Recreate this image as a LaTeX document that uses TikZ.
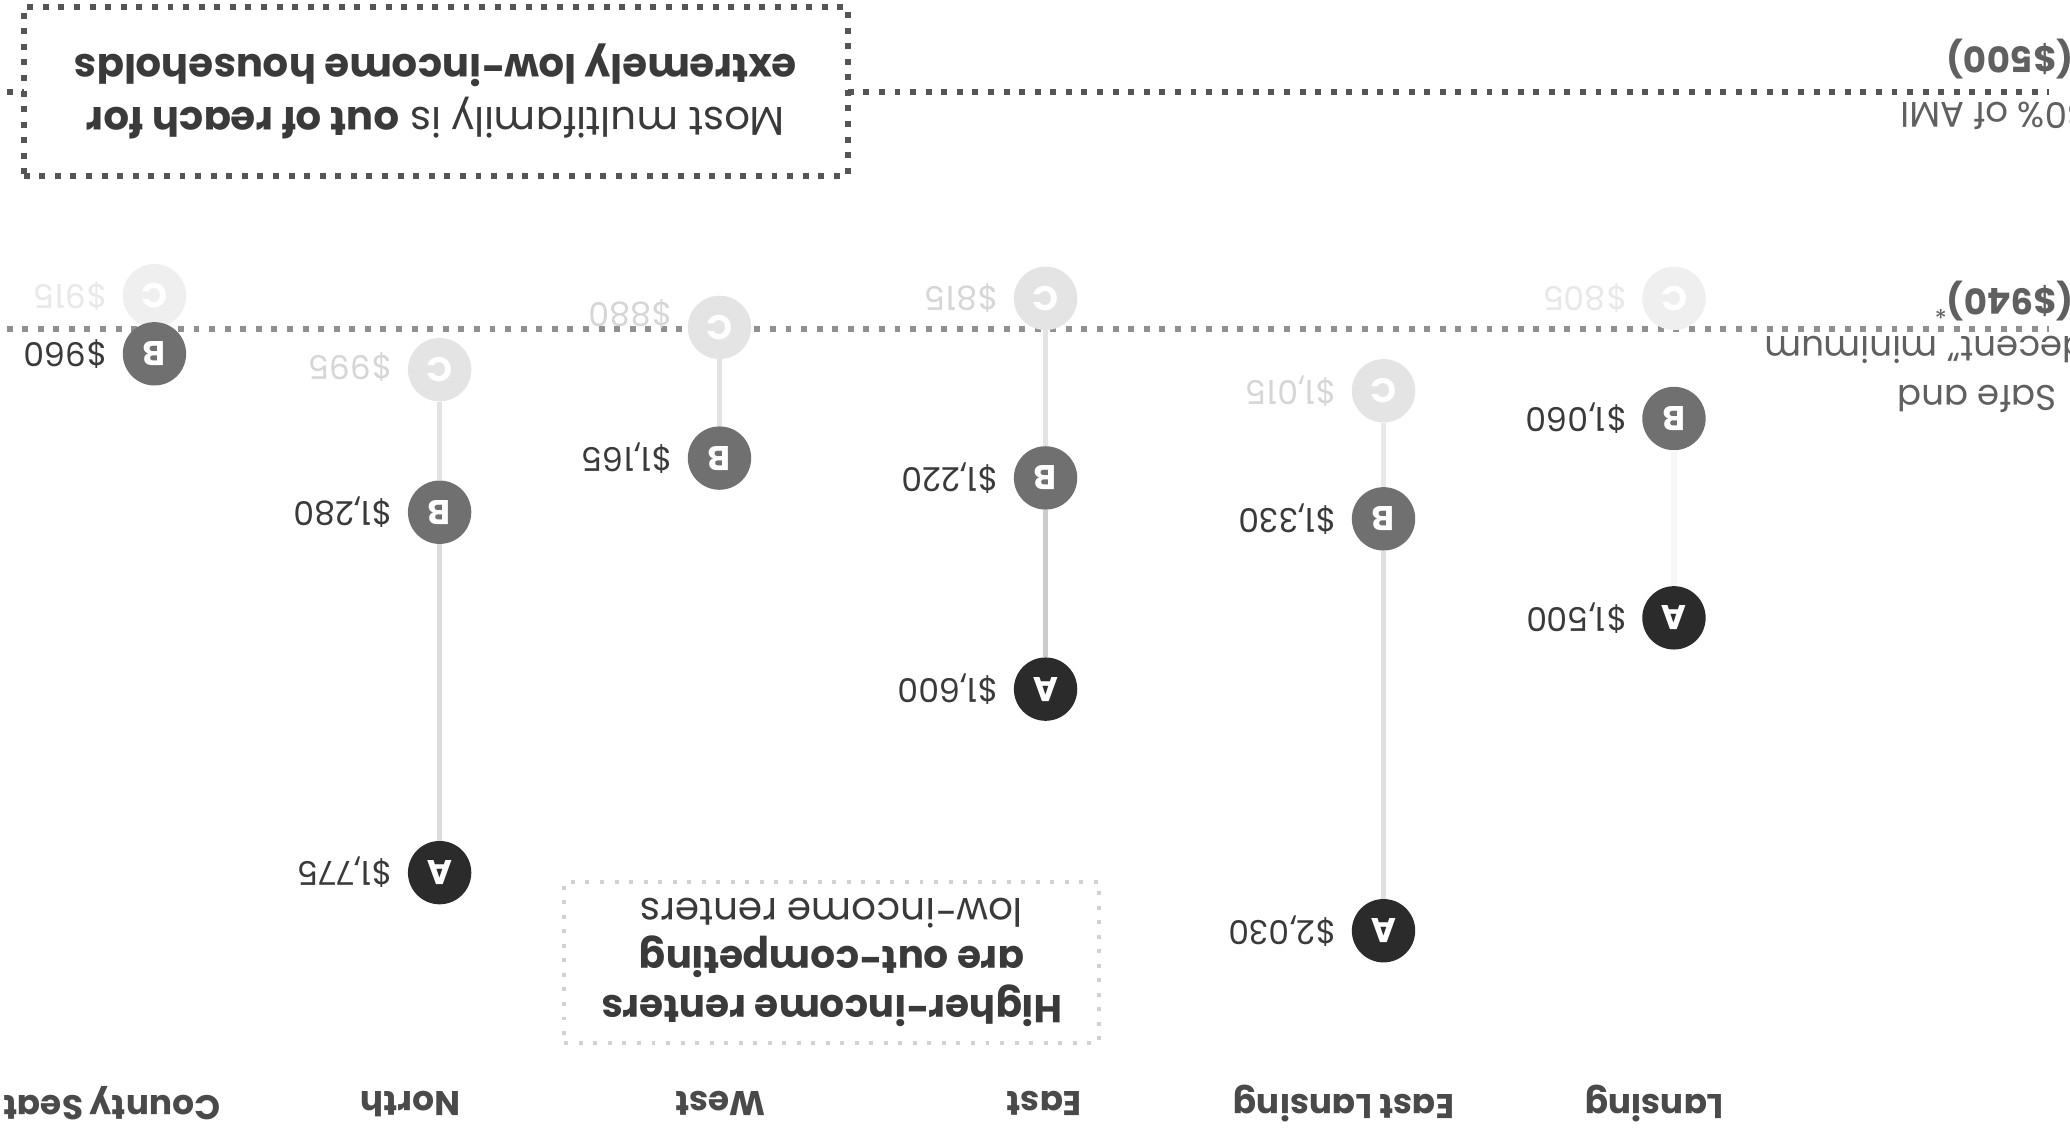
\documentclass[tikz,border=0pt]{standalone}
\usepackage{fontspec}
\setmainfont{Poppins}
\definecolor{cA}{HTML}{2B2B2B}
\definecolor{cB}{HTML}{707070}
\definecolor{cC}{HTML}{E4E4E4}
\definecolor{cCf}{HTML}{EFEFEF}
\definecolor{priceC}{HTML}{3A3A3A}
\definecolor{cClab}{HTML}{D6D6D6}
\definecolor{cClabf}{HTML}{E8E8E8}
\definecolor{regionC}{HTML}{4A4A4A}
\definecolor{lineDark}{HTML}{555555}
\definecolor{lineMid}{HTML}{909090}
\definecolor{boxLight}{HTML}{D2D2D2}
\definecolor{axisC}{HTML}{606060}
\begin{document}
\begin{tikzpicture}[x=1pt,y=-1pt,
  circ/.style={circle, minimum size=48pt, inner sep=0pt, text=white,
    font=\fontsize{26}{26}\selectfont\bfseries, rotate=180},
  ca/.style={circ, fill=cA},
  cb/.style={circ, fill=cB},
  cc/.style={circ, fill=cC},
  ccf/.style={circ, fill=cCf},
  price/.style={anchor=west, rotate=180, inner sep=0pt,
    font=\fontsize{25}{28}\selectfont, text=priceC},
  pricec/.style={price, text=cClab},
  pricecf/.style={price, text=cClabf},
  region/.style={rotate=180, inner sep=0pt,
    font=\fontsize{26}{30}\selectfont\bfseries, text=regionC},
  axislab/.style={anchor=west, rotate=180, inner sep=0pt,
    font=\fontsize{27}{32}\selectfont, text=axisC},
  link/.style={line width=4pt},
  dotline/.style={line width=4.5pt, dash pattern=on 4.5pt off 7.3pt},
  lightdot/.style={line width=3pt, dash pattern=on 3pt off 8pt},
]
\useasboundingbox (0,0) rectangle (1568,860);
\fill[white] (0,0) rectangle (1568,860);

% reference lines
\coordinate (l500a) at (5,70);
\coordinate (l500b) at (1552,70);
\coordinate (l940a) at (5,249);
\coordinate (l940b) at (1552,249);
\draw[dotline, draw=lineDark] (l500a) -- (l500b);
\draw[dotline, draw=lineMid] (l940a) -- (l940b);

% axis labels (cut at the right edge)
\node[axislab] (ami) at (1582,88) {30\% of AMI};
\node[axislab, font=\fontsize{27}{32}\selectfont\bfseries] (p500) at (1571,45) {(\$500)};
\node[axislab] (safe) at (1558,302) {Safe and};
\node[axislab] (decent) at (1591,265) {“decent” minimum};
\node[axislab] (p940) at (1571,228) {\textbf{(\$940)}\textsuperscript{*}};

% top annotation box
\node[draw=lineDark, dotline, fill=white, rotate=180, minimum width=624pt,
  minimum height=128pt, align=center, text=priceC,
  font=\fontsize{30.5}{40}\selectfont] (topbox) at (330,69)
  {Most multifamily is \textbf{out of reach for}\\\textbf{extremely low-income households}};

% bottom annotation box
\node[draw=boxLight, lightdot, fill=white, rotate=180, minimum width=405pt,
  minimum height=122pt, align=center, text=priceC,
  font=\fontsize{29.5}{37}\selectfont] (botbox) at (630,729)
  {\textbf{Higher-income renters}\\\textbf{are out-competing}\\low-income renters};

% Lansing
\node[ccf] (LC) at (1268,226) {C};
\node[cb]  (LB) at (1268,317) {B};
\node[ca]  (LA) at (1268,468) {A};
% East Lansing
\node[cc] (ELC) at (1048,296) {C};
\node[cb] (ELB) at (1048,393) {B};
\node[ca] (ELA) at (1048,705) {A};
% East
\node[cc] (EC) at (792,226) {C};
\node[cb] (EB) at (792,362) {B};
\node[ca] (EA) at (792,522) {A};
% West
\node[cc] (WC) at (545,248) {C};
\node[cb] (WB) at (545,347) {B};
% North
\node[cc] (NC) at (333,280) {C};
\node[cb] (NB) at (333,388) {B};
\node[ca] (NA) at (333,661) {A};
% County Seat
\node[ccf] (CC) at (117,224) {C};
\node[cb]  (CB) at (117,268) {B};

% connectors
\draw[link, draw=black!3]  (LA) -- (LB);
\draw[link, draw=black!12] (ELA) -- (ELB);
\draw[link, draw=black!9]  (ELB) -- (ELC);
\draw[link, draw=black!20] (EA) -- (EB);
\draw[link, draw=black!11] (EB) -- (EC);
\draw[link, draw=black!11] (WB) -- (WC);
\draw[link, draw=black!14] (NA) -- (NB);
\draw[link, draw=black!11] (NB) -- (NC);

% price labels
\node[pricecf] (LCp) at (1232,226) {\$805};
\node[price]   (LBp) at (1232,317) {\$1,060};
\node[price]   (LAp) at (1232,468) {\$1,500};
\node[pricec]  (ELCp) at (1012,296) {\$1,015};
\node[price]   (ELBp) at (1012,393) {\$1,330};
\node[price]   (ELAp) at (1012,705) {\$2,030};
\node[pricec]  (ECp) at (756,226) {\$815};
\node[price]   (EBp) at (756,362) {\$1,220};
\node[price]   (EAp) at (756,522) {\$1,600};
\node[pricec]  (WCp) at (509,238) {\$880};
\node[price]   (WBp) at (509,347) {\$1,165};
\node[pricec]  (NCp) at (297,278) {\$995};
\node[price]   (NBp) at (297,388) {\$1,280};
\node[price]   (NAp) at (297,661) {\$1,775};
\node[pricecf] (CCp) at (81,224) {\$915};
\node[price]   (CBp) at (81,268) {\$960};

% region labels
\node[region] (rL)  at (1253,836) {Lansing};
\node[region] (rEL) at (1018,836) {East Lansing};
\node[region] (rE)  at (791,836) {East};
\node[region] (rW)  at (546,836) {West};
\node[region] (rN)  at (311,836) {North};
\node[region, anchor=west] (rCS) at (167,836) {County Seat};
\end{tikzpicture}
\end{document}
